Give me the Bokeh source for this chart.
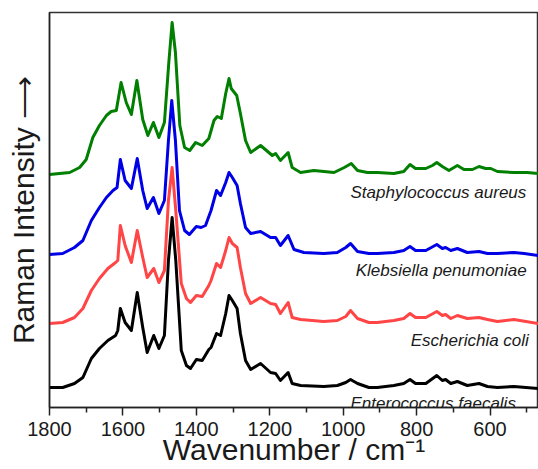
from bokeh.plotting import figure
from bokeh.models import Range1d, FixedTicker, Label
from bokeh.embed import file_html
from bokeh.resources import INLINE

# ---- data (intensities in arbitrary units, stacked) ----
wn_sa = [1800, 1745, 1718, 1700, 1682, 1664, 1645, 1632, 1618, 1605, 1591, 1577, 1562, 1546,
         1532, 1517, 1502, 1487, 1475, 1466, 1457, 1445, 1432, 1418, 1402, 1384, 1366, 1352,
         1343, 1332, 1320, 1311, 1305, 1290, 1280, 1266, 1252, 1225, 1193, 1184, 1171, 1150,
         1139, 1116, 1080, 1025, 997, 978, 961, 934, 907, 862, 835, 818, 803, 775, 757, 745,
         730, 712, 689, 671, 648, 630, 612, 598, 580, 535, 499, 468]
int_sa = [233, 235, 240, 248, 270, 282, 292, 296, 297, 325, 305, 293, 327, 288,
          272, 285, 270, 285, 345, 385, 355, 282, 260, 257, 265, 262, 269, 287,
          291, 289, 314, 329, 319, 312, 294, 267, 255, 262, 252, 254, 247, 255,
          240, 235, 237, 235, 240, 244, 237, 235, 235, 234, 236, 243, 239, 239, 242, 245,
          241, 237, 242, 238, 238, 241, 239, 239, 236, 235, 235, 234]

wn_kp = [1800, 1764, 1732, 1709, 1686, 1664, 1645, 1627, 1616, 1607, 1594, 1577, 1561, 1546,
         1534, 1517, 1502, 1487, 1476, 1467, 1457, 1446, 1432, 1419, 1400, 1387, 1375, 1360,
         1345, 1334, 1320, 1311, 1302, 1289, 1280, 1266, 1252, 1225, 1198, 1184, 1171, 1150,
         1134, 1107, 1053, 1016, 993, 980, 961, 930, 907, 862, 835, 818, 803, 775, 745, 730,
         721, 707, 689, 662, 630, 607, 580, 535, 507, 468]
int_kp = [153, 154, 160, 167, 187, 200, 210, 217, 220, 248, 227, 219, 249, 217,
          199, 210, 194, 207, 267, 307, 267, 197, 177, 173, 181, 180, 182, 197,
          217, 212, 225, 235, 230, 222, 204, 180, 174, 176, 170, 170, 162, 172,
          158, 155, 154, 155, 160, 164, 156, 154, 154, 155, 157, 161, 157, 157, 163, 159,
          160, 157, 159, 155, 156, 154, 154, 155, 154, 152]

wn_ec = [1800, 1764, 1732, 1709, 1686, 1664, 1641, 1620, 1614, 1607, 1594, 1577, 1561, 1546,
         1534, 1516, 1502, 1487, 1476, 1466, 1456, 1441, 1427, 1416, 1400, 1384, 1366, 1360,
         1345, 1334, 1320, 1311, 1302, 1289, 1280, 1266, 1252, 1225, 1198, 1184, 1171, 1150,
         1139, 1116, 1053, 1016, 993, 980, 961, 930, 907, 862, 835, 818, 803, 775, 745, 730,
         721, 707, 689, 662, 630, 607, 580, 535, 468]
int_ec = [84, 85, 90, 99, 117, 129, 139, 145, 147, 182, 162, 145, 177, 150,
          130, 139, 125, 137, 207, 240, 197, 124, 109, 105, 112, 111, 122, 127,
          144, 140, 157, 170, 164, 160, 140, 114, 104, 110, 104, 103, 94, 105,
          90, 88, 86, 87, 91, 97, 89, 85, 85, 87, 89, 94, 90, 90, 96, 92,
          93, 89, 92, 89, 90, 88, 86, 88, 84]

wn_ef = [1800, 1764, 1732, 1709, 1686, 1664, 1641, 1620, 1614, 1607, 1594, 1577, 1561, 1546,
         1534, 1516, 1502, 1487, 1476, 1466, 1456, 1441, 1427, 1416, 1400, 1384, 1366, 1360,
         1345, 1334, 1320, 1311, 1302, 1289, 1280, 1266, 1252, 1225, 1198, 1184, 1171, 1150,
         1139, 1116, 1053, 1016, 993, 980, 961, 930, 907, 862, 835, 818, 803, 775, 745, 730,
         721, 707, 689, 662, 630, 607, 580, 535, 468]
int_ef = [20, 20, 24, 30, 49, 59, 67, 72, 77, 99, 85, 77, 115, 80,
          55, 72, 59, 72, 147, 190, 147, 57, 42, 39, 48, 47, 58, 60,
          74, 72, 94, 112, 107, 99, 74, 47, 38, 44, 35, 34, 27, 35,
          24, 22, 21, 22, 25, 28, 24, 20, 20, 22, 24, 28, 24, 24, 32, 27,
          28, 24, 26, 22, 24, 21, 20, 21, 19]

names = ["Staphylococcus aureus", "Klebsiella penumoniae", "Escherichia coli", "Enterococcus faecalis"]
colors = ["#007F00", "#0000E6", "#FF4545", "#000000"]
x_ticks = [1800, 1600, 1400, 1200, 1000, 800, 600]
x_minor = [1700, 1500, 1300, 1100, 900, 700, 500]
x_title = "Wavenumber / cm\u207b\u00b9"
y_title = "Raman Intensity \u27f6"

series = [(wn_sa, int_sa), (wn_kp, int_kp), (wn_ec, int_ec), (wn_ef, int_ef)]

p = figure(width=538, height=469, output_backend="svg", toolbar_location=None,
           x_range=Range1d(1800, 468), y_range=Range1d(0, 395),
           min_border_left=49, min_border_right=0, min_border_top=12, min_border_bottom=62)
p.background_fill_color = "white"
p.border_fill_color = "white"
p.outline_line_color = "#333333"
p.outline_line_width = 1.5
p.xgrid.visible = False
p.ygrid.visible = False

for (wn, it), c in zip(series, colors):
    p.line(wn, it, line_color=c, line_width=3, line_join="round")

label_pos = [(980, 215), (966, 137), (816, 67), (980, 4)]
for name, (lx, ly) in zip(names, label_pos):
    p.add_layout(Label(x=lx, y=ly, text=name, text_font="Liberation Sans",
                       text_font_style="italic", text_font_size="17px",
                       text_color="#1a1a1a", text_baseline="alphabetic", text_align="left"))

xa = p.xaxis[0]
xa.ticker = FixedTicker(ticks=x_ticks, minor_ticks=x_minor)
xa.axis_line_color = "#222222"
xa.axis_line_width = 1.5
xa.major_tick_out = 8
xa.major_tick_in = 0
xa.minor_tick_out = 5
xa.minor_tick_in = 0
xa.major_tick_line_width = 1.5
xa.minor_tick_line_width = 1.5
xa.major_tick_line_color = "#222222"
xa.minor_tick_line_color = "#222222"
xa.major_label_text_font = "Liberation Sans"
xa.major_label_text_font_size = "20px"
xa.major_label_text_color = "#1a1a1a"
xa.major_label_standoff = 6
xa.axis_label = x_title
xa.axis_label_text_font = "Liberation Sans"
xa.axis_label_text_font_size = "30px"
xa.axis_label_text_font_style = "normal"
xa.axis_label_text_color = "#1a1a1a"
xa.axis_label_standoff = -6

ya = p.yaxis[0]
ya.ticker = FixedTicker(ticks=[])
ya.axis_line_color = "#222222"
ya.axis_line_width = 1.5
ya.major_tick_out = 0
ya.major_tick_in = 0
ya.minor_tick_out = 0
ya.minor_tick_in = 0
ya.major_label_text_font_size = "0px"
ya.axis_label = y_title
ya.axis_label_text_font = "Liberation Sans"
ya.axis_label_text_font_size = "30px"
ya.axis_label_text_font_style = "normal"
ya.axis_label_text_color = "#1a1a1a"
ya.axis_label_standoff = 10

open("out.html", "w").write(file_html(p, INLINE))
